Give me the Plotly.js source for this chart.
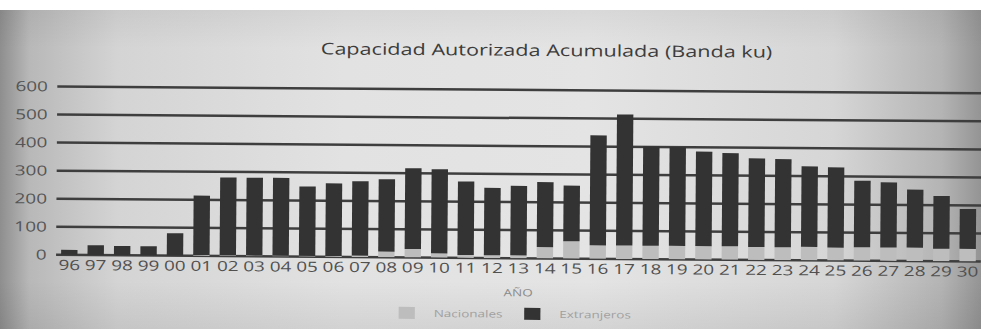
<!DOCTYPE html>
<html>
<head>
<meta charset="utf-8">
<script src="https://cdn.plot.ly/plotly-3.0.1.min.js"></script>
<style>
  html, body { margin: 0; padding: 0; width: 981px; height: 329px; overflow: hidden; background: #ffffff; }
  #page {
    position: absolute; left: 0; top: 10px; width: 981px; height: 319px;
    background:
      linear-gradient(to bottom, rgba(0,0,0,0.05) 0%, rgba(0,0,0,0) 12%, rgba(0,0,0,0) 85%, rgba(0,0,0,0.07) 100%),
      linear-gradient(to right, #8e8e8e 0%, #b8b8b8 3%, #d4d4d4 12%, #e2e2e2 35%, #e4e4e4 60%, #d6d6d6 85%, #b4b4b4 96%, #949494 100%);
  }
  #chart { position: absolute; left: 0; top: 0; width: 981px; height: 329px; }
  /* smooth edges once the figure is tilted */
  #chart svg path, #chart svg rect { shape-rendering: geometricPrecision !important; }
</style>
</head>
<body>
<div id="page"></div>
<div id="chart"></div>
<script>
// Year labels (two-digit) along the horizontal axis
const years = ['96','97','98','99','00','01','02','03','04','05','06','07','08','09','10','11','12','13','14','15','16','17','18','19','20','21','22','23','24','25','26','27','28','29','30'];

// Cumulative authorised capacity, Ku band
const nacionales = [0, 0, 0, 0, 0, 3, 3, 3, 3, 3, 3, 5, 20, 30, 15, 10, 10, 10, 40, 62, 48, 48, 48, 48, 48, 48, 46, 46, 48, 46, 48, 48, 48, 45, 45];
const extranjeros = [18, 35, 33, 33, 80, 212, 277, 277, 277, 247, 259, 265, 258, 288, 300, 262, 240, 248, 232, 198, 392, 467, 354, 352, 337, 332, 316, 314, 287, 286, 237, 232, 207, 188, 142];

const yTicks = [0, 100, 200, 300, 400, 500, 600];

// The page is printed wide: the figure is laid out narrow, then stretched
// horizontally and given a slight clockwise tilt.
const STRETCH = 1.35;
const TILT = 0.42;
const FIG_W = Math.round(981 / STRETCH);

const traces = [
  {
    type: 'bar', name: 'Nacionales', x: years, y: nacionales,
    marker: { color: '#bdbdbd', line: { width: 0 } }
  },
  {
    type: 'bar', name: 'Extranjeros', x: years, y: extranjeros,
    marker: { color: '#333333', line: { width: 0 } }
  }
];

const layout = {
  width: FIG_W, height: 329,
  margin: { l: 42, r: 0, t: 88, b: 71 },
  paper_bgcolor: 'rgba(0,0,0,0)',
  plot_bgcolor: 'rgba(0,0,0,0)',
  barmode: 'stack',
  bargap: 0.38,
  font: { family: 'Open Sans, sans-serif', color: '#555555' },
  title: {
    text: 'Capacidad Autorizada Acumulada (Banda ku)',
    font: { size: 16, color: '#3c3c3c', family: 'Open Sans, sans-serif' },
    x: 0.556, xanchor: 'center', xref: 'container',
    y: 0.848, yanchor: 'middle', yref: 'container'
  },
  xaxis: {
    type: 'category',
    tickfont: { size: 14, color: '#505050' },
    showgrid: false, showline: false, ticks: '',
    title: { text: 'AÑO', font: { size: 10, color: '#8a8a8a' }, standoff: 18 }
  },
  yaxis: {
    range: [0, 606],
    tickvals: yTicks,
    ticktext: yTicks.map(String),
    tickfont: { size: 14, color: '#555555' },
    ticklabelstandoff: 6,
    showgrid: true, gridcolor: '#3e3e3e', gridwidth: 2.5,
    zeroline: true, zerolinecolor: '#3e3e3e', zerolinewidth: 2.5,
    showline: false, ticks: ''
  },
  showlegend: true,
  legend: {
    orientation: 'h', traceorder: 'normal',
    xref: 'container', x: 0.388, xanchor: 'left',
    yref: 'container', y: 0.047, yanchor: 'middle',
    entrywidth: 48, entrywidthmode: 'pixels',
    font: { size: 10, color: '#a0a0a0' },
    bgcolor: 'rgba(0,0,0,0)'
  }
};

Plotly.newPlot('chart', traces, layout, { displayModeBar: false, staticPlot: true }).then(function (gd) {
  const NS = 'http://www.w3.org/2000/svg';
  gd.querySelectorAll('svg.main-svg').forEach(function (svg) {
    svg.setAttribute('width', 981);
    svg.style.width = '981px';
    const g = document.createElementNS(NS, 'g');
    g.setAttribute('transform', 'rotate(' + TILT + ' 490 170) scale(' + STRETCH + ' 1)');
    while (svg.firstChild) g.appendChild(svg.firstChild);
    svg.appendChild(g);
  });
  const sc = gd.querySelector('.svg-container');
  if (sc) sc.style.width = '981px';
});
</script>
</body>
</html>
